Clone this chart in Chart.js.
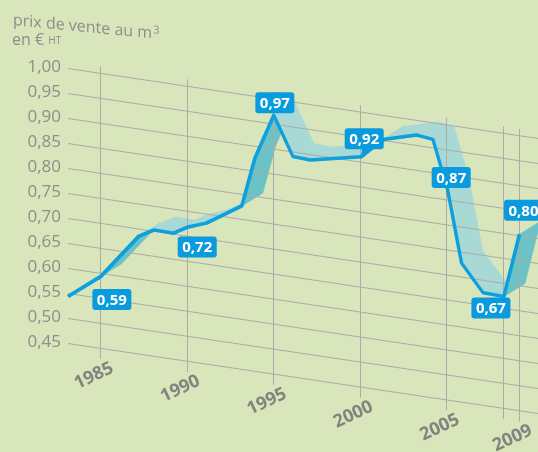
<!DOCTYPE html>
<html>
<head>
<meta charset="utf-8">
<script src="https://cdn.jsdelivr.net/npm/chart.js@4.4.1/dist/chart.umd.min.js"></script>
<style>
  html, body { margin: 0; padding: 0; background: #d9e5bb; overflow: hidden; }
  #wrap { position: relative; width: 538px; height: 452px; }
</style>
</head>
<body>
<div id="wrap"><canvas id="chart" width="538" height="452"></canvas></div>
<script>
/* Selling price per m3 (EUR excl. tax), 1983-2009, drawn on a receding grid */

// data
const years  = [1983.1, 1985.0, 1987.2, 1988.1, 1989.2, 1990.05, 1991.1, 1993.15, 1993.9, 1995.0,
                1996.1, 1997.1, 2000.05, 2001.3, 2003.25, 2004.2, 2005.05, 2005.85, 2007.1, 2008.3, 2009.2];
const prices = [0.544, 0.594, 0.686, 0.703, 0.702, 0.719, 0.732, 0.777, 0.876, 0.968,
                0.891, 0.889, 0.911, 0.952, 0.971, 0.967, 0.870, 0.728, 0.675, 0.674, 0.803];
const labelAt   = [1, 5, 9, 12, 16, 19, 20];
const labelText = ['0,59', '0,72', '0,97', '0,92', '0,87', '0,67', '0,80'];
const yTicks    = [1.00, 0.95, 0.90, 0.85, 0.80, 0.75, 0.70, 0.65, 0.60, 0.55, 0.50, 0.45];
const yTickText = ['1,00', '0,95', '0,90', '0,85', '0,80', '0,75', '0,70', '0,65', '0,60', '0,55', '0,50', '0,45'];
const xTicks    = [1985, 1990, 1995, 2000, 2005, 2008.3, 2009.2];
const xTickText = ['1985', '1990', '1995', '2000', '2005', '', '2009'];

// look
const BG = '#d9e5bb';
const LINE = '#0e9fdf';
const BOX = '#0a9ade';
const LIGHT = '#a9d9d5';
const DARK = '#6cc3c5';
const GRID = '#a9aca8';
const TXT = '#8b9088';
const SKEW = 0.149;          // slope of the receding grid lines
const DEPTH = [21, -13];     // ribbon depth, screen px
const labelOffset = [[11, 23], [9, 20], [1, -12.5], [3, -18], [3.5, -12.5], [-13, 11.5], [4, -24]];
const labelTail   = [0, 0, 0, 1, 0, 0, 0];

const toScreen = (chart, x, y) => [x, y + SKEW * (x - chart.chartArea.left)];

const perspective = {
  id: 'perspective',
  beforeDraw(chart) {
    const { ctx, chartArea: a } = chart;
    ctx.save();
    ctx.fillStyle = BG;
    ctx.fillRect(0, 0, chart.width, chart.height);
    ctx.transform(1, SKEW, 0, 1, 0, -SKEW * a.left);

    // ribbon behind the line
    const pts = chart.getDatasetMeta(0).data;
    const dx = DEPTH[0], dy = DEPTH[1] - SKEW * DEPTH[0];
    for (let i = 0; i < pts.length - 1; i++) {
      const p = pts[i], q = pts[i + 1];
      const sx = q.x - p.x;
      const sy = (q.y + SKEW * q.x) - (p.y + SKEW * p.x);
      const col = (sx * DEPTH[1] - sy * DEPTH[0]) > 0 ? DARK : LIGHT;
      ctx.fillStyle = col;
      ctx.strokeStyle = col;
      ctx.lineWidth = 0.6;
      ctx.beginPath();
      ctx.moveTo(p.x, p.y);
      ctx.lineTo(q.x, q.y);
      ctx.lineTo(q.x + dx, q.y + dy);
      ctx.lineTo(p.x + dx, p.y + dy);
      ctx.closePath();
      ctx.fill();
      ctx.stroke();
    }
  },
  afterDatasetsDraw(chart) {
    chart.ctx.restore();
  },
  afterDraw(chart) {
    const { ctx, chartArea: a, scales } = chart;
    ctx.save();
    ctx.setTransform(1, 0, 0, 1, 0, 0);

    // title, sheared like the grid plane
    ctx.fillStyle = TXT;
    ctx.textAlign = 'left';
    ctx.textBaseline = 'alphabetic';
    ctx.save();
    ctx.transform(1, 0.095, 0, 1, 13, 25);
    ctx.font = '16px "Open Sans"';
    ctx.fillText('prix de vente au m', 0, 0);
    const w = ctx.measureText('prix de vente au m').width;
    ctx.font = '11px "Open Sans"';
    ctx.fillText('3', w + 1, -5);
    ctx.restore();
    ctx.font = '16px "Open Sans"';
    ctx.fillText('en €', 12, 45);
    const w2 = ctx.measureText('en € ').width;
    ctx.font = '10px "Open Sans"';
    ctx.fillText('HT', 12 + w2, 44);

    // y tick labels
    ctx.font = '17px "Open Sans"';
    ctx.textAlign = 'right';
    ctx.textBaseline = 'middle';
    yTicks.forEach((v, i) => {
      ctx.fillText(yTickText[i], 61, scales.y.getPixelForValue(v) - 1.5);
    });

    // x tick labels, tilted
    ctx.font = 'bold 18px "Open Sans"';
    ctx.fillStyle = '#80857f';
    ctx.textAlign = 'center';
    xTicks.forEach((v, i) => {
      if (!xTickText[i]) return;
      const [px, py] = toScreen(chart, scales.x.getPixelForValue(v), a.bottom);
      ctx.save();
      ctx.translate(px - 7, py + 17.5);
      ctx.rotate(-25 * Math.PI / 180);
      ctx.fillText(xTickText[i], 0, 0);
      ctx.restore();
    });

    // value boxes
    const pts = chart.getDatasetMeta(0).data;
    ctx.font = 'bold 15px "Open Sans"';
    labelAt.forEach((idx, i) => {
      const [px, py] = toScreen(chart, pts[idx].x, pts[idx].y);
      const cx = px + labelOffset[i][0], cy = py + labelOffset[i][1];
      const bw = ctx.measureText(labelText[i]).width + 9, bh = 21;
      ctx.fillStyle = BOX;
      if (labelTail[i]) {
        ctx.beginPath();
        ctx.moveTo(cx - 2, cy + bh / 2 - 1);
        ctx.lineTo(cx + 8, cy + bh / 2 - 1);
        ctx.lineTo(px, py);
        ctx.closePath();
        ctx.fill();
      }
      ctx.beginPath();
      ctx.roundRect(cx - bw / 2, cy - bh / 2, bw, bh, 3);
      ctx.fill();
      ctx.fillStyle = '#ffffff';
      ctx.fillText(labelText[i], cx, cy + 1);
    });
    ctx.restore();
  }
};

new Chart(document.getElementById('chart'), {
  type: 'line',
  data: {
    datasets: [{
      data: years.map((y, i) => ({ x: y, y: prices[i] })),
      borderColor: LINE,
      borderWidth: 3.5,
      borderJoinStyle: 'round',
      pointRadius: 0,
      tension: 0,
      fill: false,
      clip: false
    }]
  },
  options: {
    responsive: false,
    animation: false,
    events: [],
    layout: { padding: { left: 68, right: 0, top: 61.5, bottom: 98.5 } },
    plugins: { legend: { display: false }, tooltip: { enabled: false } },
    scales: {
      x: {
        type: 'linear', min: 1983.1, max: 2010.27,
        afterBuildTicks: s => { s.ticks = xTicks.map(v => ({ value: v })); },
        ticks: { display: false },
        grid: { color: GRID, lineWidth: 1, drawTicks: false },
        border: { display: false }
      },
      y: {
        type: 'linear', min: 0.43, max: 1.014,
        afterBuildTicks: s => { s.ticks = yTicks.map(v => ({ value: v })); },
        ticks: { display: false },
        grid: { color: GRID, lineWidth: 1, drawTicks: false },
        border: { display: false }
      }
    }
  },
  plugins: [perspective]
});
</script>
</body>
</html>
